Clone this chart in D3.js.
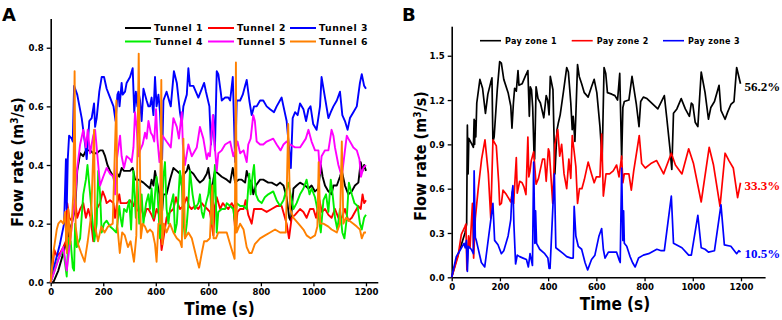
<!DOCTYPE html>
<html>
<head>
<meta charset="utf-8">
<script src="https://cdn.jsdelivr.net/npm/d3@7"></script>
<style>
body { margin: 0; background: #fff; }
text { font-family: "DejaVu Sans", sans-serif; font-weight: bold; }
.cond { font-family: "DejaVu Sans Condensed", "DejaVu Sans", sans-serif; font-stretch: condensed; }
</style>
</head>
<body>
<div id="chart"></div>
<script>
// ---- panel A data: [time (s), flow rate (m3/s)] ----
const tunnelNames = ['Tunnel 1', 'Tunnel 2', 'Tunnel 3', 'Tunnel 4', 'Tunnel 5', 'Tunnel 6'];
const tunnelColors = ['#000000', '#ff0000', '#0000ff', '#00ee00', '#ff00ff', '#ff8000'];

const tunnel1 = [[0,0],[10,0],[29,0.04],[48,0.10],[67,0.16],[80,0.20],[93,0.25],[101,0.38],[112,0.44],[124,0.43],[134,0.45],[150,0.45],[162,0.44],[175,0.44],[188,0.45],[198,0.45],[207,0.43],[216,0.40],[226,0.38],[239,0.36],[245,0.33],[254,0.37],[261,0.36],[270,0.39],[279,0.38],[289,0.38],[302,0.38],[312,0.39],[321,0.35],[334,0.35],[353,0.34],[365,0.33],[378,0.32],[384,0.35],[391,0.33],[397,0.38],[403,0.35],[414,0.30],[422,0.22],[429,0.30],[441,0.30],[454,0.35],[467,0.39],[480,0.38],[492,0.37],[499,0.33],[508,0.37],[518,0.38],[524,0.40],[530,0.38],[543,0.37],[558,0.35],[568,0.34],[581,0.35],[594,0.37],[600,0.39],[606,0.35],[613,0.30],[619,0.35],[625,0.38],[638,0.37],[651,0.36],[670,0.35],[683,0.34],[693,0.39],[702,0.34],[715,0.35],[727,0.35],[740,0.34],[746,0.38],[756,0.35],[765,0.34],[771,0.30],[781,0.33],[797,0.35],[809,0.35],[828,0.34],[841,0.34],[860,0.33],[873,0.34],[886,0.33],[898,0.29],[908,0.22],[914,0.21],[924,0.32],[936,0.33],[949,0.34],[968,0.33],[981,0.32],[993,0.33],[1006,0.31],[1019,0.32],[1028,0.40],[1035,0.36],[1044,0.33],[1057,0.31],[1069,0.30],[1076,0.33],[1089,0.33],[1101,0.36],[1108,0.38],[1120,0.33],[1133,0.30],[1146,0.31],[1158,0.33],[1171,0.34],[1180,0.41],[1187,0.38],[1193,0.40],[1200,0.38]];

const tunnel2 = [[0,0],[14,0.11],[23,0.09],[36,0.10],[48,0.12],[58,0.14],[63,0.27],[71,0.22],[80,0.21],[93,0.28],[101,0.22],[112,0.25],[124,0.27],[134,0.22],[143,0.25],[152,0.22],[162,0.14],[175,0.25],[188,0.27],[198,0.31],[207,0.29],[213,0.27],[226,0.28],[239,0.27],[245,0.22],[251,0.26],[261,0.30],[266,0.27],[277,0.27],[289,0.27],[302,0.28],[315,0.26],[321,0.28],[327,0.25],[337,0.24],[346,0.25],[355,0.22],[365,0.25],[372,0.25],[384,0.23],[393,0.21],[403,0.25],[413,0.23],[422,0.11],[431,0.16],[441,0.22],[454,0.24],[467,0.25],[477,0.29],[483,0.27],[492,0.25],[505,0.26],[518,0.29],[526,0.26],[536,0.25],[549,0.26],[562,0.25],[575,0.27],[584,0.26],[596,0.25],[606,0.24],[619,0.16],[625,0.26],[632,0.29],[645,0.25],[655,0.27],[664,0.26],[676,0.25],[689,0.27],[695,0.26],[703,0.17],[711,0.24],[721,0.25],[734,0.25],[742,0.28],[752,0.23],[765,0.20],[774,0.25],[787,0.25],[803,0.25],[822,0.24],[841,0.25],[860,0.26],[879,0.26],[898,0.20],[907,0.15],[917,0.22],[930,0.23],[949,0.25],[962,0.24],[974,0.22],[987,0.25],[1000,0.25],[1010,0.22],[1023,0.28],[1032,0.24],[1044,0.25],[1057,0.23],[1069,0.22],[1082,0.25],[1095,0.22],[1108,0.22],[1120,0.25],[1133,0.21],[1146,0.22],[1158,0.24],[1171,0.26],[1180,0.25],[1187,0.30],[1193,0.27],[1200,0.28]];

const tunnel3 = [[0,0],[15,0.06],[35,0.13],[51,0.20],[58,0.42],[61,0.25],[65,0.42],[70,0.50],[80,0.49],[84,0.48],[89,0.67],[101,0.64],[118,0.56],[131,0.47],[137,0.42],[147,0.55],[156,0.56],[165,0.61],[169,0.53],[175,0.56],[185,0.65],[194,0.70],[203,0.70],[213,0.66],[226,0.63],[239,0.60],[247,0.55],[254,0.64],[258,0.65],[262,0.60],[270,0.68],[274,0.64],[283,0.65],[289,0.68],[302,0.70],[312,0.73],[318,0.58],[324,0.65],[330,0.60],[334,0.65],[340,0.62],[346,0.55],[353,0.66],[365,0.62],[372,0.60],[378,0.60],[384,0.63],[391,0.57],[397,0.70],[403,0.60],[410,0.64],[416,0.58],[424,0.42],[429,0.62],[441,0.65],[457,0.60],[469,0.72],[480,0.68],[492,0.58],[499,0.54],[505,0.60],[518,0.64],[524,0.73],[530,0.67],[543,0.67],[562,0.63],[584,0.68],[591,0.65],[604,0.60],[610,0.47],[619,0.57],[625,0.45],[632,0.72],[638,0.71],[647,0.65],[651,0.62],[664,0.63],[676,0.63],[683,0.62],[693,0.70],[702,0.41],[708,0.62],[721,0.62],[731,0.64],[740,0.67],[746,0.69],[756,0.62],[765,0.57],[774,0.60],[784,0.60],[797,0.62],[809,0.62],[822,0.60],[835,0.59],[850,0.58],[860,0.60],[879,0.63],[886,0.60],[898,0.55],[908,0.45],[914,0.39],[921,0.56],[930,0.58],[940,0.57],[949,0.61],[962,0.59],[972,0.55],[981,0.59],[989,0.60],[999,0.54],[1012,0.52],[1025,0.60],[1031,0.70],[1044,0.63],[1057,0.56],[1066,0.58],[1076,0.60],[1089,0.62],[1101,0.65],[1110,0.57],[1120,0.55],[1130,0.52],[1139,0.56],[1152,0.58],[1165,0.60],[1177,0.68],[1184,0.71],[1193,0.67],[1200,0.66]];

const tunnel4 = [[0,0],[29,0.08],[48,0.11],[61,0.02],[67,0.15],[76,0.14],[84,0.05],[89,0.04],[93,0.20],[99,0.12],[112,0.15],[124,0.30],[134,0.35],[140,0.40],[147,0.33],[156,0.24],[166,0.14],[175,0.20],[181,0.38],[188,0.30],[194,0.17],[203,0.20],[213,0.21],[226,0.19],[239,0.18],[249,0.17],[254,0.20],[261,0.26],[266,0.22],[272,0.19],[279,0.25],[289,0.24],[299,0.28],[306,0.18],[315,0.38],[324,0.22],[330,0.35],[337,0.20],[346,0.30],[353,0.20],[363,0.27],[372,0.30],[378,0.25],[384,0.32],[391,0.22],[397,0.30],[403,0.36],[410,0.25],[416,0.15],[422,0.20],[429,0.36],[435,0.41],[441,0.25],[448,0.20],[454,0.25],[467,0.30],[473,0.17],[480,0.20],[492,0.38],[499,0.33],[505,0.21],[511,0.15],[518,0.20],[524,0.27],[530,0.38],[540,0.30],[549,0.25],[562,0.27],[568,0.30],[575,0.24],[581,0.22],[591,0.27],[600,0.30],[606,0.35],[613,0.20],[619,0.28],[625,0.40],[632,0.17],[638,0.24],[651,0.25],[664,0.25],[670,0.27],[683,0.26],[695,0.25],[702,0.20],[708,0.27],[721,0.26],[734,0.26],[746,0.25],[756,0.37],[761,0.30],[769,0.37],[774,0.40],[781,0.30],[790,0.28],[803,0.27],[815,0.29],[828,0.30],[847,0.31],[860,0.28],[873,0.26],[886,0.28],[895,0.31],[904,0.34],[913,0.30],[924,0.25],[936,0.27],[949,0.30],[962,0.32],[974,0.35],[985,0.30],[993,0.32],[1006,0.29],[1019,0.23],[1028,0.17],[1038,0.28],[1048,0.30],[1057,0.24],[1066,0.35],[1073,0.30],[1082,0.22],[1091,0.18],[1101,0.25],[1110,0.17],[1118,0.15],[1127,0.22],[1135,0.34],[1146,0.30],[1156,0.27],[1168,0.26],[1177,0.20],[1184,0.18],[1193,0.22],[1200,0.23]];

const tunnel5 = [[0,0],[30,0.08],[48,0.12],[61,0.04],[74,0.14],[84,0.22],[93,0.28],[101,0.39],[112,0.47],[124,0.52],[134,0.46],[141,0.52],[150,0.44],[162,0.50],[169,0.52],[181,0.40],[188,0.33],[200,0.36],[213,0.39],[226,0.37],[239,0.36],[245,0.30],[252,0.42],[264,0.50],[270,0.43],[279,0.39],[289,0.43],[302,0.42],[308,0.41],[315,0.46],[321,0.58],[327,0.53],[334,0.43],[340,0.45],[350,0.47],[359,0.51],[365,0.49],[372,0.55],[381,0.51],[388,0.50],[394,0.48],[401,0.59],[406,0.49],[414,0.41],[426,0.50],[441,0.48],[457,0.46],[467,0.56],[480,0.53],[488,0.49],[499,0.58],[503,0.47],[511,0.40],[524,0.47],[537,0.43],[556,0.46],[568,0.53],[581,0.49],[594,0.42],[600,0.44],[606,0.43],[617,0.57],[625,0.46],[632,0.38],[638,0.44],[651,0.45],[664,0.47],[683,0.48],[695,0.43],[702,0.45],[711,0.48],[721,0.44],[734,0.45],[746,0.41],[752,0.47],[761,0.49],[771,0.57],[777,0.55],[784,0.48],[797,0.47],[809,0.47],[822,0.48],[847,0.49],[860,0.47],[875,0.45],[886,0.47],[898,0.48],[911,0.47],[930,0.46],[949,0.46],[971,0.49],[981,0.52],[993,0.48],[1006,0.45],[1019,0.45],[1025,0.37],[1031,0.43],[1044,0.45],[1057,0.45],[1069,0.52],[1076,0.50],[1082,0.46],[1095,0.40],[1108,0.36],[1120,0.45],[1127,0.50],[1133,0.49],[1152,0.46],[1165,0.45],[1175,0.42],[1181,0.36],[1190,0.39],[1200,0.40]];

const tunnel6 = [[0,0],[10,0.10],[23,0.18],[29,0.20],[39,0.21],[48,0.20],[55,0.24],[61,0.10],[67,0.25],[74,0.13],[80,0.20],[86,0.30],[91,0.72],[95,0.19],[104,0.13],[116,0.10],[129,0.07],[141,0.14],[154,0.23],[165,0.52],[169,0.19],[180,0.14],[193,0.19],[205,0.17],[218,0.19],[236,0.20],[250,0.62],[254,0.19],[263,0.10],[272,0.17],[282,0.16],[294,0.12],[304,0.14],[317,0.07],[326,0.16],[335,0.78],[343,0.15],[350,0.20],[359,0.19],[368,0.17],[378,0.18],[388,0.17],[397,0.13],[403,0.07],[410,0.20],[416,0.20],[421,0.69],[425,0.13],[431,0.20],[441,0.17],[454,0.20],[467,0.17],[480,0.15],[492,0.14],[499,0.12],[505,0.49],[511,0.15],[524,0.17],[537,0.15],[556,0.08],[565,0.05],[575,0.10],[584,0.14],[594,0.14],[606,0.15],[615,0.33],[620,0.15],[629,0.15],[638,0.17],[651,0.17],[670,0.17],[683,0.13],[693,0.10],[700,0.08],[705,0.75],[708,0.17],[721,0.20],[734,0.18],[746,0.12],[756,0.10],[765,0.10],[777,0.13],[797,0.15],[816,0.16],[835,0.17],[854,0.18],[873,0.17],[895,0.17],[904,0.54],[911,0.25],[924,0.22],[943,0.20],[962,0.18],[974,0.16],[989,0.15],[1006,0.16],[1015,0.19],[1020,0.41],[1026,0.20],[1038,0.20],[1057,0.19],[1069,0.18],[1089,0.17],[1101,0.20],[1108,0.48],[1114,0.20],[1124,0.22],[1137,0.21],[1152,0.20],[1165,0.19],[1177,0.18],[1184,0.15],[1193,0.17],[1200,0.17]];

const ticksA_x = [0, 200, 400, 600, 800, 1000, 1200];
const ticksA_y = [0, 0.2, 0.4, 0.6, 0.8];

// ---- panel B data ----
const zoneNames = ['Pay zone 1', 'Pay zone 2', 'Pay zone 3'];
const zoneColors = ['#000000', '#ff0000', '#0000ff'];
const zoneShares = ['56.2%', '33.3%', '10.5%'];

const zone1 = [[0,0],[20,0.12],[40,0.22],[55,0.30],[62,0.36],[65,1.03],[68,0.70],[71,0.94],[84,0.90],[90,0.88],[93,1.07],[95,0.90],[97,1.06],[100,0.95],[104,1.18],[117,1.34],[128,1.28],[140,1.11],[150,1.24],[162,1.32],[167,1.35],[171,0.92],[176,0.95],[189,1.27],[199,1.46],[206,1.45],[216,1.34],[234,1.25],[245,1.16],[250,1.01],[256,1.18],[261,1.28],[268,1.26],[275,1.40],[279,1.30],[292,1.31],[305,1.36],[316,1.40],[322,1.09],[326,1.29],[331,1.27],[336,1.15],[341,0.86],[344,0.80],[350,1.29],[358,1.21],[368,1.18],[382,1.08],[392,1.23],[398,1.20],[404,1.10],[409,1.36],[420,1.27],[428,0.70],[437,1.00],[443,1.05],[450,1.10],[463,1.25],[477,1.42],[484,1.39],[494,1.18],[500,1.00],[504,1.09],[511,0.92],[515,1.10],[522,1.44],[529,1.36],[539,1.31],[550,1.25],[566,1.22],[580,1.29],[591,1.34],[602,1.25],[615,1.02],[624,0.79],[632,1.42],[639,1.38],[646,1.25],[664,1.24],[677,1.23],[688,1.20],[697,1.38],[705,0.80],[710,1.15],[716,1.19],[735,1.20],[748,1.36],[766,1.17],[777,1.02],[784,1.19],[795,1.22],[810,1.21],[855,1.14],[882,1.23],[892,1.08],[906,0.86],[913,0.73],[920,1.11],[934,1.14],[952,1.21],[969,1.14],[986,1.09],[994,1.18],[1000,1.17],[1010,1.05],[1021,1.02],[1035,1.39],[1051,1.25],[1065,1.07],[1075,1.15],[1090,1.19],[1109,1.30],[1117,1.13],[1134,1.07],[1145,1.12],[1158,1.17],[1171,1.19],[1182,1.42],[1198,1.31]];

const zone2 = [[0,0],[26,0.14],[40,0.29],[54,0.34],[59,0.36],[63,0.05],[70,0.28],[76,0.20],[86,0.50],[91,0.13],[98,0.40],[110,0.60],[124,0.80],[138,0.93],[152,0.70],[162,0.40],[171,0.93],[185,0.89],[195,0.64],[199,0.49],[206,0.50],[213,0.59],[227,0.56],[245,0.51],[252,0.58],[257,0.50],[268,0.81],[272,0.57],[282,0.65],[292,0.64],[300,0.61],[308,0.56],[316,0.95],[320,0.68],[325,0.72],[330,0.79],[340,0.85],[350,0.63],[360,0.67],[377,0.80],[385,0.80],[392,0.65],[401,0.87],[405,0.85],[419,0.50],[428,0.90],[440,1.00],[448,0.82],[456,0.90],[466,0.70],[477,0.60],[486,0.80],[494,0.67],[500,0.96],[508,0.85],[515,0.75],[522,0.50],[530,0.60],[540,0.60],[550,0.66],[566,0.78],[580,0.70],[591,0.64],[600,0.68],[615,0.68],[622,0.97],[629,0.55],[640,0.70],[655,0.70],[670,0.72],[684,0.76],[694,0.68],[705,0.82],[710,0.64],[716,0.70],[735,0.70],[745,0.59],[755,0.72],[778,0.96],[788,0.77],[803,0.74],[826,0.77],[850,0.79],[879,0.70],[911,0.84],[928,0.76],[955,0.70],[983,0.87],[1003,0.77],[1035,0.51],[1068,0.88],[1086,0.76],[1113,0.48],[1134,0.84],[1150,0.79],[1168,0.74],[1186,0.54],[1198,0.64]];

const zone3 = [[0,0],[19,0.14],[37,0.19],[51,0.23],[56,0.20],[61,0.25],[65,0.04],[69,0.21],[81,0.19],[90,0.16],[93,0.72],[98,0.27],[102,0.25],[123,0.10],[137,0.07],[171,0.50],[178,0.25],[192,0.22],[206,0.16],[216,0.18],[234,0.28],[245,0.39],[250,0.57],[254,0.62],[258,0.36],[265,0.09],[272,0.15],[282,0.14],[296,0.13],[310,0.12],[318,0.07],[325,0.16],[335,0.08],[340,0.78],[345,0.23],[348,0.45],[352,0.23],[365,0.19],[386,0.16],[399,0.13],[404,0.06],[408,0.06],[426,0.70],[432,0.20],[440,0.19],[463,0.16],[477,0.14],[495,0.13],[504,0.13],[508,0.48],[515,0.28],[525,0.21],[539,0.19],[553,0.10],[564,0.05],[580,0.12],[594,0.15],[611,0.28],[622,0.33],[629,0.19],[636,0.13],[650,0.17],[670,0.17],[684,0.17],[694,0.12],[699,0.10],[705,0.74],[710,0.25],[713,0.45],[716,0.23],[726,0.21],[740,0.14],[750,0.10],[761,0.07],[775,0.13],[795,0.15],[817,0.16],[851,0.19],[869,0.18],[882,0.18],[911,0.55],[920,0.23],[955,0.20],[983,0.15],[994,0.15],[1021,0.42],[1035,0.20],[1051,0.19],[1065,0.17],[1090,0.18],[1117,0.49],[1131,0.22],[1158,0.21],[1182,0.16],[1191,0.18],[1198,0.17]];

const ticksB_x = [0, 200, 400, 600, 800, 1000, 1200];
const ticksB_y = [0, 0.3, 0.6, 0.9, 1.2, 1.5];

const tunnels = [tunnel1, tunnel2, tunnel3, tunnel4, tunnel5, tunnel6];
const zones = [zone1, zone2, zone3];

const svg = d3.select('#chart')
  .append('svg')
  .attr('width', 782)
  .attr('height', 320);

function drawAxes(g, x, y, xt, yt) {
  const gx = g.append('g')
    .attr('transform', `translate(0,${y.range()[0]})`)
    .call(d3.axisBottom(x).tickValues(xt).tickSize(4).tickSizeOuter(0).tickPadding(1.5).tickFormat(d3.format('d')));
  const gy = g.append('g')
    .attr('transform', `translate(${x.range()[0]},0)`)
    .call(d3.axisLeft(y).tickValues(yt).tickSize(4).tickSizeOuter(0).tickPadding(3).tickFormat(d3.format('.1f')));
  [gx, gy].forEach(a => {
    a.select('.domain').attr('stroke', '#000').attr('stroke-width', 1.6);
    a.selectAll('.tick line').attr('stroke', '#000').attr('stroke-width', 1.3);
    a.selectAll('.tick text')
      .attr('class', 'cond')
      .attr('fill', '#000')
      .style('font-size', '9.5px')
      .style('font-weight', 'bold');
  });
}

function yTitle(x, y) {
  const t = svg.append('text')
    .attr('class', 'cond')
    .attr('transform', `translate(${x},${y}) rotate(-90)`)
    .attr('text-anchor', 'middle')
    .style('font-size', '16px');
  t.append('tspan').text('Flow rate (m');
  t.append('tspan').attr('baseline-shift', 'super').style('font-size', '10px').text('3');
  t.append('tspan').text('/s)');
}

const line = (x, y) => d3.line().x(d => x(d[0])).y(d => y(d[1]));

// ================= panel A =================
const xA = d3.scaleLinear().domain([0, 1245]).range([50.7, 377.8]);
const yA = d3.scaleLinear().domain([0, 0.9]).range([282.3, 18.4]);
const gA = svg.append('g');

drawAxes(gA, xA, yA, ticksA_x, ticksA_y);

gA.selectAll('path.tunnel')
  .data(tunnels)
  .enter()
  .append('path')
  .attr('class', 'tunnel')
  .attr('fill', 'none')
  .attr('stroke', (d, i) => tunnelColors[i])
  .attr('stroke-width', 1.9)
  .attr('stroke-linejoin', 'round')
  .attr('d', line(xA, yA));

// legend A (3 columns x 2 rows)
const legA = gA.selectAll('g.leg')
  .data(tunnelNames)
  .enter()
  .append('g')
  .attr('class', 'leg')
  .attr('transform', (d, i) => `translate(${[125, 208, 290][i % 3]},${[28, 41.5][Math.floor(i / 3)]})`);
legA.append('line')
  .attr('x1', 0).attr('x2', 26)
  .attr('stroke', (d, i) => tunnelColors[i])
  .attr('stroke-width', 2);
legA.append('text')
  .attr('x', 29).attr('y', 3.3)
  .style('font-size', '9.3px')
  .style('letter-spacing', '0.6px')
  .text(d => d);

svg.append('text').attr('x', 2).attr('y', 20.5).style('font-size', '18px').text('A');
yTitle(23, 162);
svg.append('text').attr('class', 'cond')
  .attr('x', 219.5).attr('y', 315)
  .attr('text-anchor', 'middle')
  .style('font-size', '17px')
  .text('Time (s)');

// ================= panel B =================
const xB = d3.scaleLinear().domain([0, 1300]).range([451.7, 765.1]);
const yB = d3.scaleLinear().domain([0, 1.7]).range([277.3, 26.2]);
const gB = svg.append('g');

drawAxes(gB, xB, yB, ticksB_x, ticksB_y);

gB.selectAll('path.zone')
  .data(zones)
  .enter()
  .append('path')
  .attr('class', 'zone')
  .attr('fill', 'none')
  .attr('stroke', (d, i) => zoneColors[i])
  .attr('stroke-width', 1.7)
  .attr('stroke-linejoin', 'round')
  .attr('d', line(xB, yB));

// share labels at the end of each series
gB.selectAll('text.share')
  .data(zones)
  .enter()
  .append('text')
  .attr('class', 'share')
  .attr('x', d => xB(d[d.length - 1][0]) + 4)
  .attr('y', (d, i) => yB([1.29, 0.62, 0.16][i]) + 4.5)
  .attr('fill', (d, i) => zoneColors[i])
  .style('font-family', '"Liberation Serif", serif')
  .style('font-size', '13px')
  .text((d, i) => zoneShares[i]);

const legB = gB.selectAll('g.leg')
  .data(zoneNames)
  .enter()
  .append('g')
  .attr('class', 'leg')
  .attr('transform', (d, i) => `translate(${[480, 571.7, 663][i]},40.7)`);
legB.append('line')
  .attr('x1', 0).attr('x2', 21)
  .attr('stroke', (d, i) => zoneColors[i])
  .attr('stroke-width', 1.6);
legB.append('text')
  .attr('x', 25).attr('y', 2.8)
  .style('font-size', '8px')
  .style('letter-spacing', '0.35px')
  .text(d => d);

svg.append('text').attr('x', 402).attr('y', 20.5).style('font-size', '18px').text('B');
yTitle(426, 156);
svg.append('text').attr('class', 'cond')
  .attr('x', 615).attr('y', 309.5)
  .attr('text-anchor', 'middle')
  .style('font-size', '17px')
  .text('Time (s)');
</script>
</body>
</html>
